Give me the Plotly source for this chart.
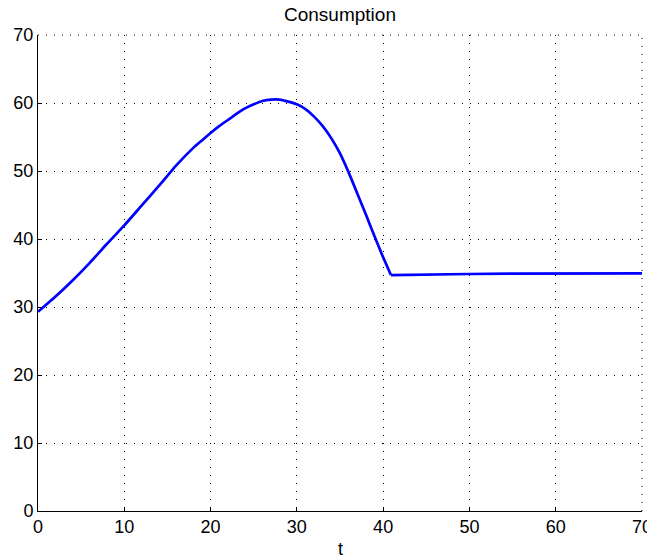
import plotly.graph_objects as go

t = [0, 2, 4, 6, 8, 10, 12, 14, 16, 18, 19, 20, 21, 22, 23, 24, 25, 26, 27, 28,
     29, 30, 31, 32, 33, 34, 35, 36, 37, 38, 39, 40, 40.9, 45, 50, 55, 60, 65, 70]
consumption = [29.3, 31.5, 33.9, 36.5, 39.3, 42.0, 44.9, 47.8, 50.8, 53.4, 54.5,
               55.6, 56.6, 57.5, 58.4, 59.2, 59.8, 60.3, 60.5, 60.5, 60.2, 59.8,
               59.1, 58.0, 56.6, 54.8, 52.6, 49.8, 46.7, 43.6, 40.4, 37.3, 34.7,
               34.8, 34.85, 34.9, 34.9, 34.95, 34.95]
tick_vals = [0, 10, 20, 30, 40, 50, 60, 70]
kink = t.index(40.9)

fig = go.Figure()
# smooth rising/falling part
fig.add_trace(go.Scatter(x=t[:kink + 1], y=consumption[:kink + 1], mode="lines",
                         line=dict(color="#0000ff", width=2.7, shape="spline", smoothing=0.5),
                         hoverinfo="skip", showlegend=False))
# flat part after the kink
fig.add_trace(go.Scatter(x=t[kink:], y=consumption[kink:], mode="lines",
                         line=dict(color="#0000ff", width=2.7),
                         hoverinfo="skip", showlegend=False))

font = dict(family="Liberation Sans, Arial, Helvetica, sans-serif", size=18, color="black")
axis_common = dict(
    tickvals=tick_vals, ticks="inside", ticklen=4, tickcolor="black", tickwidth=1,
    showline=True, linecolor="black", linewidth=1, mirror=False,
    showgrid=True, gridcolor="black", gridwidth=1, griddash="1px,7px",
    zeroline=False, tickfont=font, range=[0, 70], fixedrange=True, automargin=False,
    ticklabeloverflow="allow",
)
fig.update_xaxes(**axis_common, ticklabelstandoff=-1)
fig.update_yaxes(**axis_common)

grid_dash = "1px,7px"
# dotted grid lines along the top and right borders (at 70)
fig.add_shape(type="line", xref="paper", yref="paper", x0=0, x1=1, y0=1, y1=1,
              line=dict(color="black", width=1, dash=grid_dash))
fig.add_shape(type="line", xref="paper", yref="paper", x0=1, x1=1, y0=0, y1=1,
              line=dict(color="black", width=1, dash=grid_dash))

fig.add_annotation(text="Consumption", xref="paper", yref="paper", x=0.5, y=1,
                   xanchor="center", yanchor="bottom", yshift=8, showarrow=False,
                   font=dict(family=font["family"], size=19, color="black"))
fig.add_annotation(text="t", xref="paper", yref="paper", x=0.5, y=0,
                   xanchor="center", yanchor="top", yshift=-26, showarrow=False,
                   font=font)

fig.update_layout(
    width=647, height=558,
    margin=dict(l=38, r=5, t=35, b=47),
    paper_bgcolor="white", plot_bgcolor="white",
    font=font,
)
fig.write_html("out.html",
               config={"displayModeBar": False, "staticPlot": True},
               post_script="document.body.style.margin='0';"
                           "document.body.style.overflow='hidden';")
